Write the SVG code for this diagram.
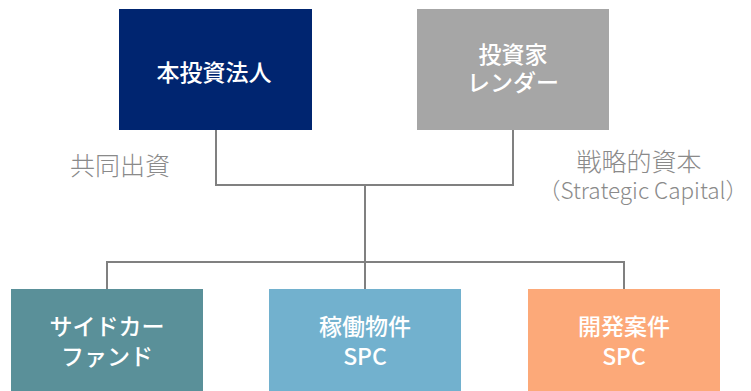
<svg xmlns="http://www.w3.org/2000/svg" width="751" height="391" viewBox="0 0 751 391">
<style>
.box-t{font-family:"Noto Sans CJK JP","Noto Sans",sans-serif;font-size:23px;font-weight:500;fill:#ffffff;text-anchor:middle;dominant-baseline:central}
.lbl{font-family:"Noto Sans CJK JP","Noto Sans",sans-serif;font-size:25px;font-weight:300;fill:#8a8a8a;text-anchor:middle;dominant-baseline:central}
.lbl-en{font-family:"Noto Sans CJK JP","Noto Sans",sans-serif;font-size:22.5px;font-weight:300;fill:#8a8a8a;text-anchor:middle;dominant-baseline:central}
.conn{fill:none;stroke:#808080;stroke-width:2}
</style>
<rect width="751" height="391" fill="#ffffff"/>
<g id="connectors">
<polyline class="conn" points="216,130 216,185 513,185 513,130"/>
<line class="conn" x1="365" y1="185" x2="365" y2="262"/>
<polyline class="conn" points="107,289 107,262 624,262 624,289"/>
<line class="conn" x1="365" y1="262" x2="365" y2="289"/>
</g>
<g id="node-hontoushi">
<rect x="119" y="9" width="193" height="121" fill="#002570"/>
<text class="box-t" x="214" y="71">本投資法人</text>
</g>
<g id="node-lender">
<rect x="417" y="9" width="192" height="121" fill="#a6a6a6"/>
<text class="box-t" x="513" y="53">投資家</text>
<text class="box-t" x="513" y="81">レンダー</text>
</g>
<g id="label-kyodo">
<text class="lbl" x="120" y="164">共同出資</text>
</g>
<g id="label-senryaku">
<text class="lbl" x="639" y="160">戦略的資本</text>
<text class="lbl-en" x="643" y="189">（Strategic Capital）</text>
</g>
<g id="node-sidecar">
<rect x="11" y="289" width="192" height="102" fill="#5a9099"/>
<text class="box-t" x="107" y="325">サイドカー</text>
<text class="box-t" x="107" y="355">ファンド</text>
</g>
<g id="node-kadou">
<rect x="269" y="289" width="192" height="102" fill="#72b1ce"/>
<text class="box-t" x="365" y="325">稼働物件</text>
<text class="box-t" x="365" y="355">SPC</text>
</g>
<g id="node-kaihatsu">
<rect x="528" y="289" width="192" height="102" fill="#fca979"/>
<text class="box-t" x="624" y="325">開発案件</text>
<text class="box-t" x="624" y="355">SPC</text>
</g>
</svg>
